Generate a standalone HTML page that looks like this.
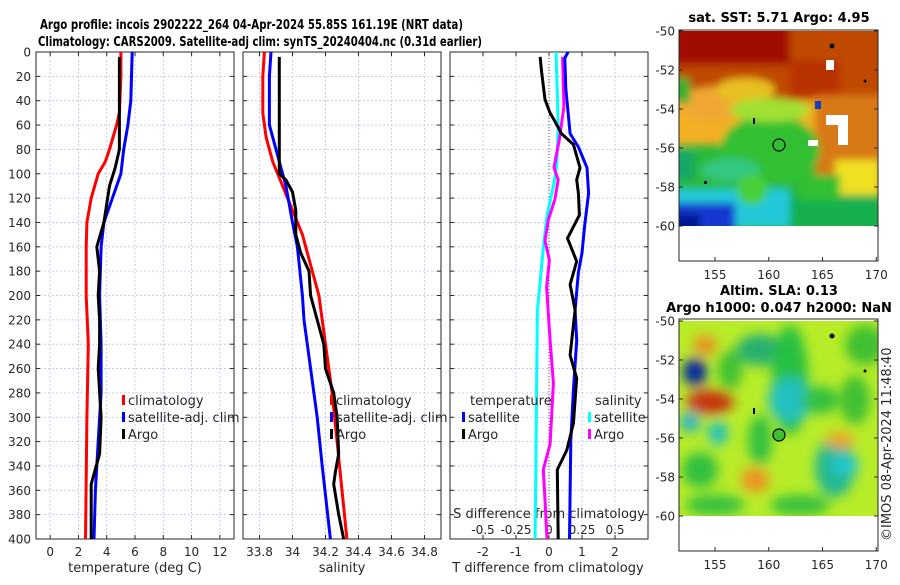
<!DOCTYPE html>
<html><head><meta charset="utf-8"><style>
html,body{margin:0;padding:0;background:#fff;}
svg text{font-family:"DejaVu Sans","Liberation Sans",sans-serif;fill:#262626;}
</style></head><body>
<svg id="fig" width="900" height="580" xmlns="http://www.w3.org/2000/svg">
<defs>
<filter id="blurT" filterUnits="userSpaceOnUse" x="660" y="10" width="240" height="240"><feGaussianBlur stdDeviation="4"/></filter>
<filter id="blurB" filterUnits="userSpaceOnUse" x="660" y="300" width="240" height="240"><feGaussianBlur stdDeviation="6"/></filter>
<clipPath id="clipTop"><rect x="679" y="31" width="199" height="195"/></clipPath>
<clipPath id="clipBot"><rect x="679" y="321" width="199" height="195"/></clipPath>
</defs>
<text x="40" y="29" font-size="13" font-weight="bold" textLength="423" lengthAdjust="spacingAndGlyphs" style="fill:#000">Argo profile: incois 2902222_264 04-Apr-2024 55.85S 161.19E (NRT data)</text>
<text x="38" y="46" font-size="13" font-weight="bold" textLength="444" lengthAdjust="spacingAndGlyphs" style="fill:#000">Climatology: CARS2009. Satellite-adj clim: synTS_20240404.nc (0.31d earlier)</text>

<!-- top map -->
<g>
<text x="779" y="22" font-size="13" font-weight="bold" text-anchor="middle" style="fill:#000">sat. SST: 5.71 Argo: 4.95</text>
<g clip-path="url(#clipTop)">
<rect x="679" y="31" width="199" height="195" fill="#2cb83a"/>
<g filter="url(#blurT)">
<rect x="670" y="100" width="220" height="45" fill="#f2b020"/>
<rect x="670" y="20" width="220" height="80" fill="#c04800"/>
<rect x="670" y="20" width="120" height="45" fill="#a01000"/>
<rect x="790" y="60" width="50" height="40" fill="#b83000"/>
<ellipse cx="710" cy="105" rx="30" ry="18" fill="#f0a830"/>
<ellipse cx="745" cy="90" rx="30" ry="12" fill="#e8c020"/>
<rect x="670" y="78" width="20" height="25" fill="#30b030"/>
<rect x="815" y="95" width="70" height="100" fill="#d87818"/>
<rect x="835" y="160" width="45" height="40" fill="#f0e020"/>
<ellipse cx="770" cy="150" rx="50" ry="35" fill="#30c030"/>
<ellipse cx="770" cy="110" rx="40" ry="12" fill="#a0e030"/>
<rect x="670" y="150" width="25" height="30" fill="#18a868"/>
<rect x="670" y="188" width="120" height="40" fill="#20c8d8"/>
<ellipse cx="730" cy="170" rx="30" ry="12" fill="#30c880"/>
<ellipse cx="752" cy="190" rx="15" ry="15" fill="#48d038"/>
<rect x="670" y="203" width="65" height="30" fill="#1838d0"/>
<rect x="670" y="214" width="30" height="20" fill="#001890"/>
<rect x="790" y="195" width="90" height="35" fill="#18b050"/>
<rect x="800" y="175" width="40" height="25" fill="#30c030"/>
</g>
<rect x="826" y="115" width="22" height="10" fill="#fff"/>
<rect x="838" y="125" width="10" height="20" fill="#fff"/>
<rect x="808" y="140" width="10" height="6" fill="#fff"/>
<rect x="826" y="60" width="8" height="10" fill="#fff"/>
<rect x="815" y="101" width="6" height="8" fill="#1040c0"/>
<circle cx="779" cy="145" r="6" fill="none" stroke="#000" stroke-width="1.2"/>
<circle cx="832" cy="46" r="2.5" fill="#000"/>
<circle cx="865" cy="81" r="1.5" fill="#000"/>
<rect x="753" y="118" width="2" height="6" fill="#000"/>
<rect x="704" y="181" width="3" height="3" fill="#001060"/>
</g>
<rect x="679" y="30" width="199" height="231" fill="none" stroke="#262626" stroke-width="1"/>
</g>

<!-- bottom map -->
<g>
<text x="779" y="295" font-size="13" font-weight="bold" text-anchor="middle" style="fill:#000">Altim. SLA: 0.13</text>
<text x="779" y="312" font-size="13" font-weight="bold" text-anchor="middle" style="fill:#000">Argo h1000: 0.047 h2000: NaN</text>
<g clip-path="url(#clipBot)">
<rect x="679" y="321" width="199" height="195" fill="#b8ec28"/>
<g filter="url(#blurB)">
<ellipse cx="760" cy="350" rx="24" ry="16" fill="#28b070"/>
<ellipse cx="790" cy="380" rx="18" ry="55" fill="#28c040"/>
<ellipse cx="790" cy="400" rx="22" ry="22" fill="#20c0c0"/>
<ellipse cx="695" cy="372" rx="12" ry="14" fill="#0020a0"/>
<ellipse cx="710" cy="402" rx="24" ry="12" fill="#c83010"/>
<ellipse cx="705" cy="345" rx="12" ry="10" fill="#e89020"/>
<ellipse cx="690" cy="422" rx="10" ry="10" fill="#20b0d0"/>
<ellipse cx="718" cy="433" rx="10" ry="12" fill="#20c0c0"/>
<ellipse cx="835" cy="467" rx="20" ry="30" fill="#20b890"/>
<ellipse cx="845" cy="465" rx="14" ry="10" fill="#20c8d0"/>
<ellipse cx="840" cy="440" rx="14" ry="8" fill="#f0a020"/>
<ellipse cx="755" cy="480" rx="14" ry="12" fill="#f09020"/>
<ellipse cx="700" cy="470" rx="18" ry="18" fill="#30c040"/>
<ellipse cx="820" cy="400" rx="18" ry="14" fill="#30c040"/>
<ellipse cx="760" cy="440" rx="12" ry="25" fill="#30c040"/>
<ellipse cx="865" cy="345" rx="20" ry="20" fill="#40c030"/>
<ellipse cx="800" cy="505" rx="30" ry="10" fill="#30c040"/>
<ellipse cx="715" cy="505" rx="30" ry="10" fill="#30c040"/>
<ellipse cx="855" cy="400" rx="15" ry="25" fill="#40c030"/>
<ellipse cx="730" cy="370" rx="12" ry="20" fill="#40c030"/>
</g>
<circle cx="779" cy="435" r="6" fill="#40c030" stroke="#000" stroke-width="1.2"/>
<circle cx="832" cy="336" r="2.5" fill="#000"/>
<circle cx="865" cy="371" r="1.5" fill="#000"/>
<rect x="753" y="408" width="2" height="6" fill="#000"/>
</g>
<rect x="679" y="319" width="199" height="232" fill="none" stroke="#262626" stroke-width="1"/>
</g>
<text transform="translate(891,541) rotate(-90)" font-size="13">©IMOS 08-Apr-2024 11:48:40</text>
</svg>
<script>
// ---- data ----
const tempClimDepth = [0,20,50,60,80,90,100,120,140,160,200,240,300,400];
const tempClimValue = [5.0,5.0,4.9,4.7,4.2,3.9,3.4,2.9,2.6,2.55,2.55,2.7,2.6,2.5];
const tempSatDepth = [0,40,60,80,100,120,140,160,200,240,280,320,360,400];
const tempSatValue = [5.8,5.7,5.5,5.2,5.0,4.4,3.8,3.6,3.5,3.6,3.6,3.4,3.2,3.1];
const tempArgoDepth = [4,80,95,110,140,160,180,200,220,240,260,300,330,355,400];
const tempArgoValue = [4.9,4.9,4.6,4.2,3.8,3.3,3.5,3.4,3.5,3.5,3.4,3.6,3.5,2.9,2.9];

const salClimDepth = [0,20,50,70,90,110,130,150,170,200,240,280,320,360,400];
const salClimValue = [33.83,33.82,33.82,33.84,33.88,33.94,34.0,34.06,34.1,34.16,34.2,34.24,34.27,34.3,34.33];
const salSatDepth = [0,20,60,70,90,110,140,160,200,220,260,300,340,400];
const salSatValue = [33.87,33.86,33.86,33.88,33.92,33.96,34.0,34.03,34.06,34.07,34.11,34.15,34.18,34.23];
const salArgoDepth = [4,100,105,115,130,150,165,180,200,220,240,260,280,300,330,345,355,380,400];
const salArgoValue = [33.92,33.92,33.96,34.0,34.02,34.02,34.05,34.1,34.11,34.15,34.19,34.2,34.25,34.27,34.28,34.26,34.25,34.28,34.31];

const dTArgoDepth = [4,17,39,50,57,67,76,95,105,116,134,153,172,191,212,249,268,305,327,343,400];
const dTArgoValue = [-0.27,-0.22,-0.12,0.03,0.18,0.38,0.74,0.94,0.84,0.89,0.92,0.56,0.84,0.64,0.79,0.64,0.84,0.74,0.54,0.25,0.28];
const dTSatDepth = [0,5,30,67,78,95,116,143,165,181,212,237,278,319,400];
const dTSatValue = [0.58,0.48,0.51,0.64,0.89,1.15,1.2,1.08,1.0,0.89,0.79,0.84,0.74,0.66,0.62];
const dSSatDepth = [0,17,61,94,110,133,155,190,212,264,319,400];
const dSSatValue = [0.053,0.058,0.07,0.058,0.033,-0.013,-0.038,-0.068,-0.088,-0.093,-0.098,-0.105];
const dSArgoDepth = [4,45,72,95,105,121,138,155,171,193,237,272,322,343,368,400];
const dSArgoValue = [0.103,0.113,0.078,0.038,0.07,0.045,-0.005,-0.03,0.003,-0.018,0.008,0.033,0.008,-0.043,-0.03,-0.015];

const depthTicks = [0,20,40,60,80,100,120,140,160,180,200,220,240,260,280,300,320,340,360,380,400];
const tempTicks = [0,2,4,6,8,10,12];
const salTicks = [33.8,34,34.2,34.4,34.6,34.8];
const salTickLabels = ["33.8","34","34.2","34.4","34.6","34.8"];
const dTTicks = [-2,-1,0,1,2];
const dSTicks = [-0.5,-0.25,0,0.25,0.5];
const dSTickLabels = ["-0.5","-0.25","0","0.25","0.5"];
const mapLatTicks = [-50,-52,-54,-56,-58,-60];
const mapLonTicks = [155,160,165,170];

// ---- scales ----
const NS = "http://www.w3.org/2000/svg";
const svg = document.getElementById('fig');
const yTop = 52, yBot = 539;
function yD(d){ return yTop + (d/400)*(yBot-yTop); }
const panels = [
  {x0:36, x1:234, min:-1, max:13},
  {x0:243, x1:441, min:33.7, max:34.9},
  {x0:450, x1:648, min:-3, max:3}
];
function xS(p, v){ return p.x0 + (v-p.min)/(p.max-p.min)*(p.x1-p.x0); }
const pS = {x0:450, x1:648, min:-0.75, max:0.75};

function mk(tag, attrs){ const e=document.createElementNS(NS,tag); for(const k in attrs) e.setAttribute(k,attrs[k]); svg.appendChild(e); return e; }
function txt(x,y,s,size,anchor){ const t=mk('text',{x:x,y:y,'font-size':size,'text-anchor':anchor||'middle'}); t.textContent=s; return t; }

panels.forEach((p,i)=>{
  const g = mk('g',{});
  
  
  depthTicks.forEach(d=>{
    const l=mk('line',{x1:p.x0,x2:p.x1,y1:yD(d),y2:yD(d),stroke:'#b8c4e8','stroke-width':0.8,'stroke-dasharray':'2,2'});
    
    
    mk('line',{x1:p.x0,x2:p.x0+4,y1:yD(d),y2:yD(d),stroke:'#262626','stroke-width':1});
    mk('line',{x1:p.x1,x2:p.x1-4,y1:yD(d),y2:yD(d),stroke:'#262626','stroke-width':1});
  });
  const xt = i===0?tempTicks:(i===1?salTicks:dTTicks);
  xt.forEach((v,j)=>{
    const x=xS(p,v);
    const l=mk('line',{x1:x,x2:x,y1:yTop,y2:yBot,stroke:'#b8c4e8','stroke-width':0.8,'stroke-dasharray':'2,2'});
    
    
    mk('line',{x1:x,x2:x,y1:yBot,y2:yBot-4,stroke:'#262626','stroke-width':1});
    mk('line',{x1:x,x2:x,y1:yTop,y2:yTop+4,stroke:'#262626','stroke-width':1});
    const t=txt(x, 556, i===1?salTickLabels[j]:String(v), 12);
    
    
  });
  const r=mk('rect',{x:p.x0,y:yTop,width:p.x1-p.x0,height:yBot-yTop,fill:'none',stroke:'#262626','stroke-width':1});
  
  
});
depthTicks.forEach(d=>{
  const t=txt(31, yD(d)+4.5, String(d), 12, 'end');
  
  
});
const z=mk('line',{x1:xS(panels[2],0),x2:xS(panels[2],0),y1:yTop,y2:yBot,stroke:'#555','stroke-width':1,'stroke-dasharray':'1,2'});



let t;
t=txt(135,572,'temperature (deg C)',13);  
t=txt(342,572,'salinity',13);  
t=txt(548,572,'T difference from climatology',13);  
t=txt(549,518,'S difference from climatology',13);  
dSTicks.forEach((v,j)=>{
  const tt=txt(pS.x0+(v-pS.min)/(pS.max-pS.min)*(pS.x1-pS.x0), 534, dSTickLabels[j], 12);
  
  
});

function line(p, depths, vals, color, name){
  const pts = depths.map((d,k)=>xS(p,vals[k]).toFixed(1)+','+yD(d).toFixed(1)).join(' ');
  const pl=mk('polyline',{points:pts,fill:'none',stroke:color,'stroke-width':3,'stroke-linejoin':'round'});
  
  
}
line(panels[0], tempClimDepth, tempClimValue, '#ff0000', 'temp-climatology-line');
line(panels[0], tempSatDepth, tempSatValue, '#0000ff', 'temp-satellite-line');
line(panels[0], tempArgoDepth, tempArgoValue, '#000000', 'temp-argo-line');
line(panels[1], salClimDepth, salClimValue, '#ff0000', 'sal-climatology-line');
line(panels[1], salSatDepth, salSatValue, '#0000ff', 'sal-satellite-line');
line(panels[1], salArgoDepth, salArgoValue, '#000000', 'sal-argo-line');
line(pS, dSSatDepth, dSSatValue, '#00ffff', 'sdiff-satellite-line');
line(pS, dSArgoDepth, dSArgoValue, '#ff00ff', 'sdiff-argo-line');
line(panels[2], dTSatDepth, dTSatValue, '#0000ff', 'tdiff-satellite-line');
line(panels[2], dTArgoDepth, dTArgoValue, '#000000', 'tdiff-argo-line');

function legendItem(x,y,color,label,name){
  const r=mk('rect',{x:x,y:y-10,width:3,height:10,fill:color});
  
  
  const tt=txt(x+6,y,label,13,'start');
  
  
}
legendItem(122,405,'#ff0000','climatology','legend-climatology');
legendItem(122,422,'#0000ff','satellite-adj. clim','legend-satellite');
legendItem(122,439,'#000000','Argo','legend-argo');
legendItem(330,405,'#ff0000','climatology','legend-climatology-2');
legendItem(330,422,'#0000ff','satellite-adj. clim','legend-satellite-2');
legendItem(330,439,'#000000','Argo','legend-argo-2');
t=txt(470,405,'temperature',13,'start');  
legendItem(462,422,'#0000ff','satellite','legend-t-satellite');
legendItem(462,439,'#000000','Argo','legend-t-argo');
t=txt(595,405,'salinity',13,'start');  
legendItem(588,422,'#00ffff','satellite','legend-s-satellite');
legendItem(588,439,'#ff00ff','Argo','legend-s-argo');

function mapAxes(latY0, name){
  mapLatTicks.forEach(v=>{
    const y = latY0 + (-50 - v)*19.5;
    mk('line',{x1:679,x2:683,y1:y,y2:y,stroke:'#262626'});
    mk('line',{x1:878,x2:874,y1:y,y2:y,stroke:'#262626'});
    const tt=txt(675,y+4.5,String(v),12,'end');
    
    
  });
  mapLonTicks.forEach(v=>{
    const x = 715 + (v-155)*10.75;
    const yb = latY0 + 230;
    mk('line',{x1:x,x2:x,y1:yb,y2:yb-4,stroke:'#262626'});
    const tt=txt(x,yb+18,String(v),12);
    
    
  });
}
mapAxes(31,'sst-map');
mapAxes(321,'sla-map');
</script>
</body></html>
